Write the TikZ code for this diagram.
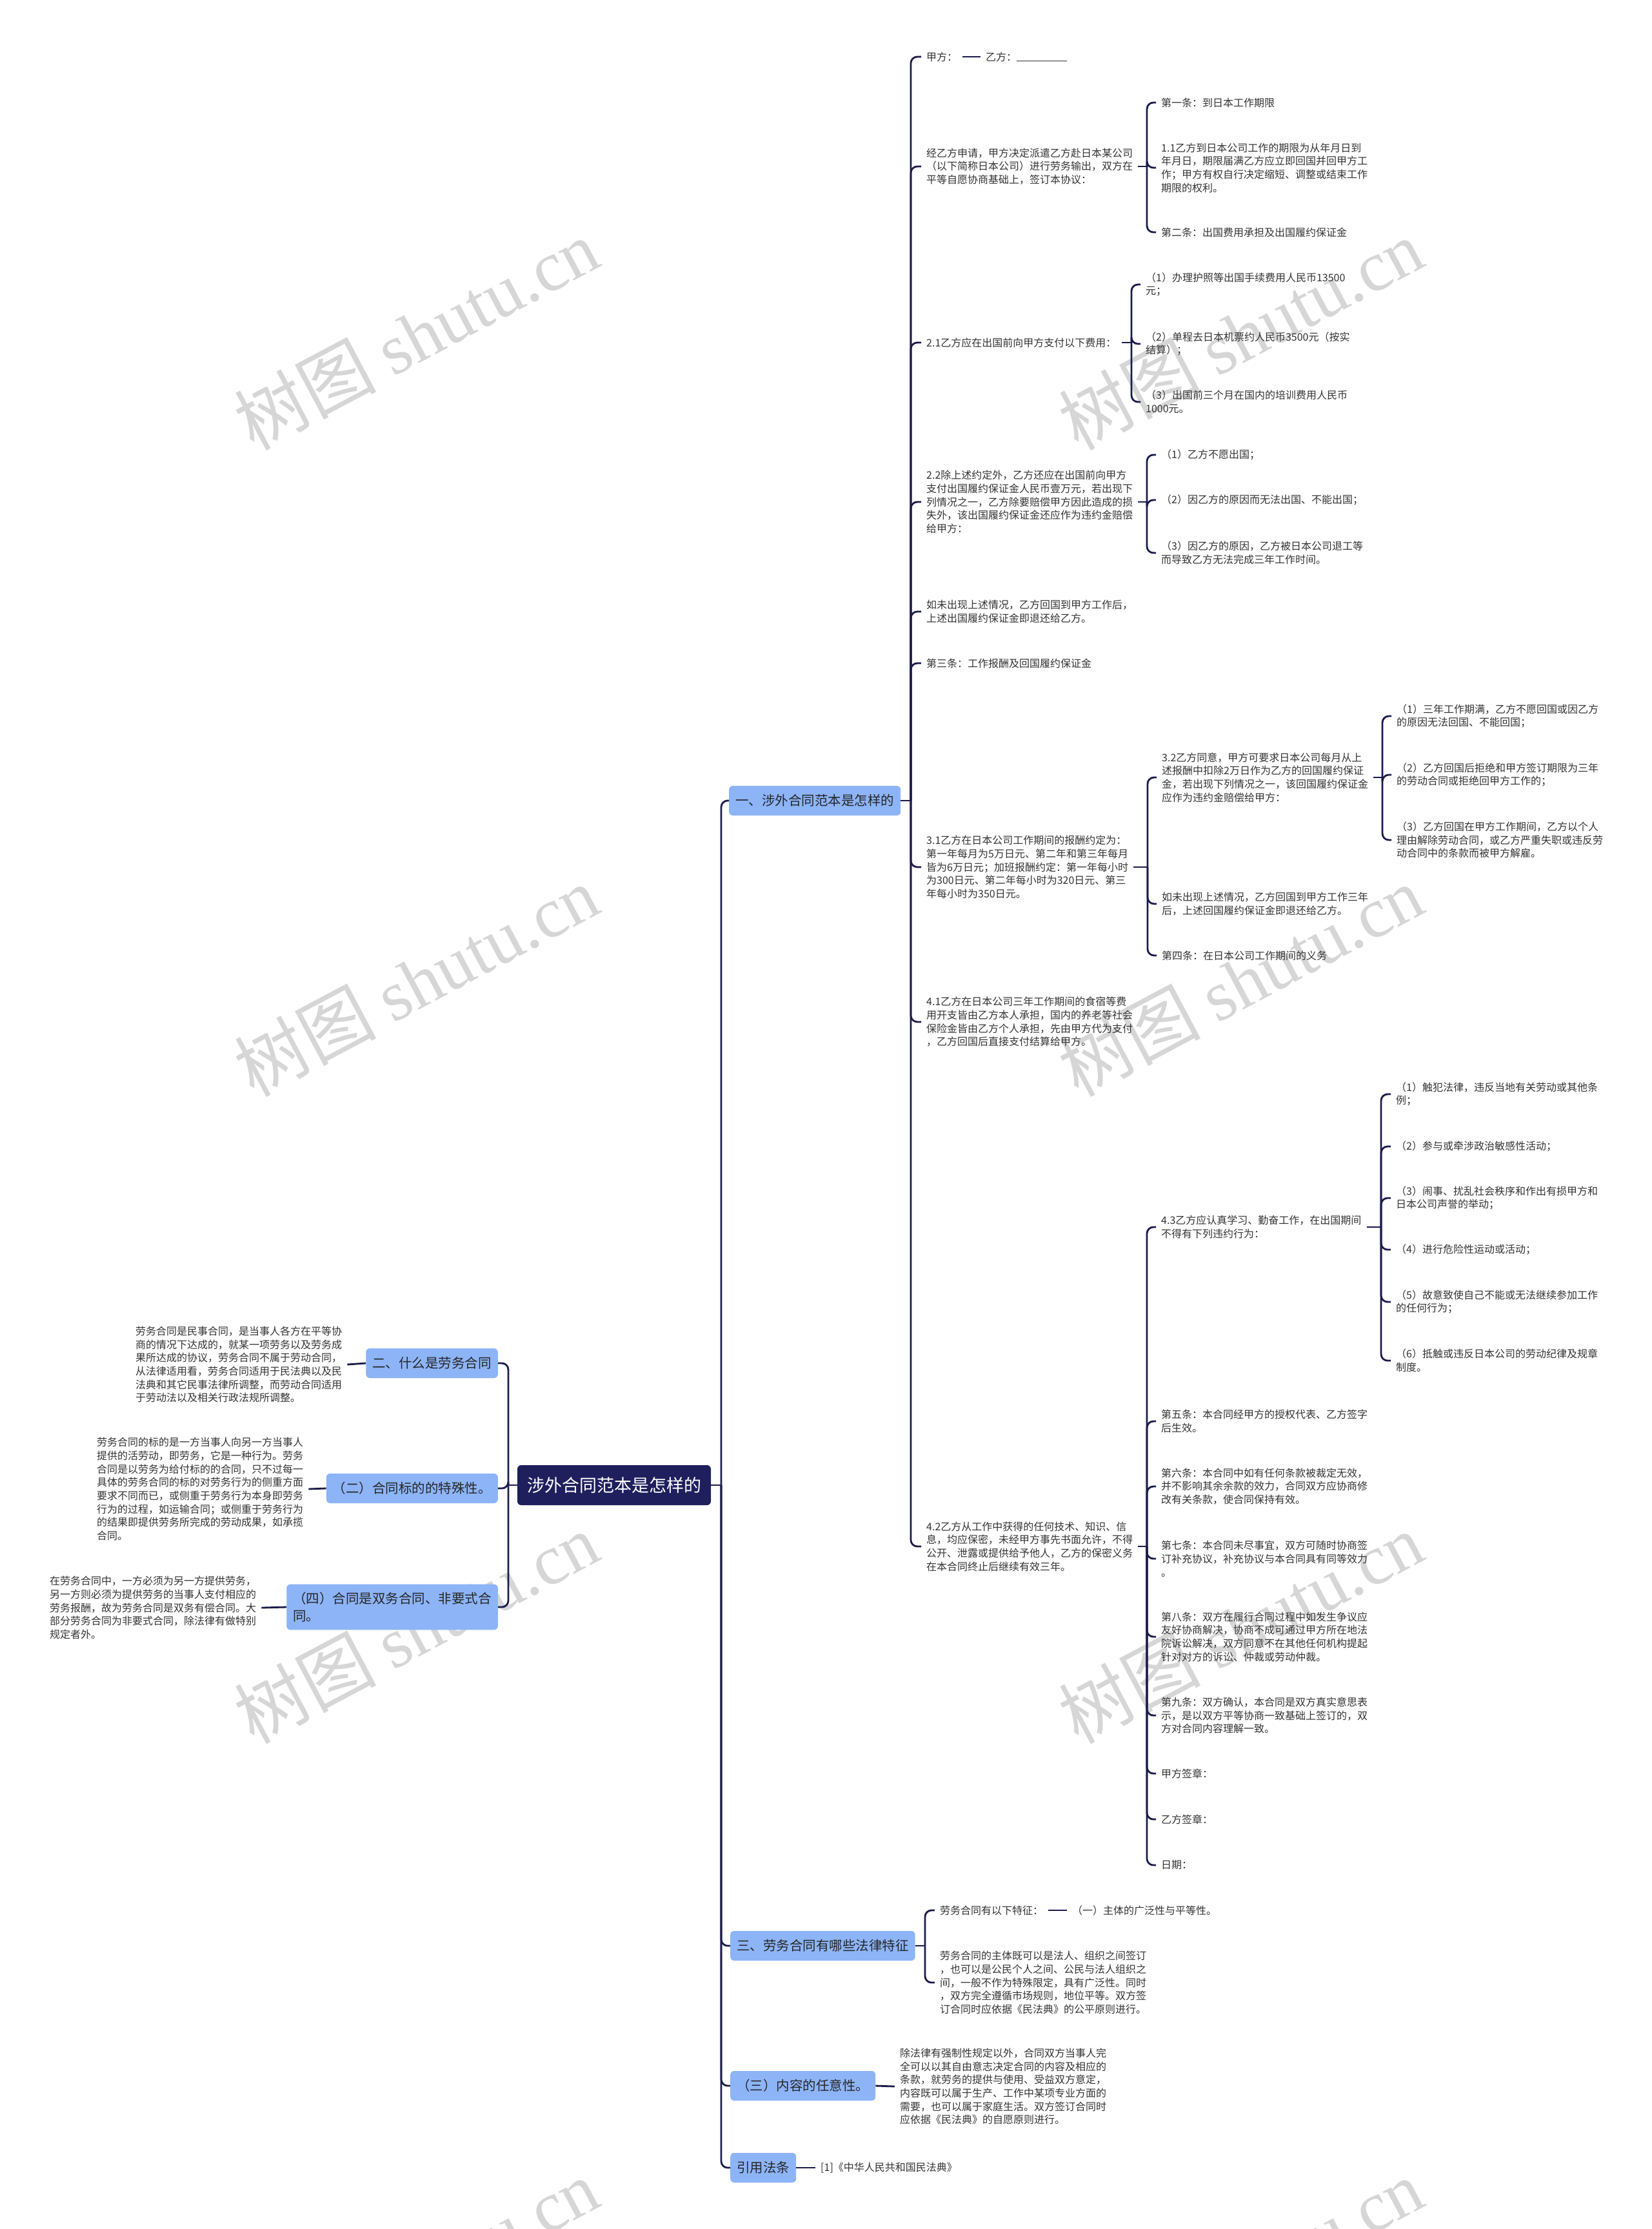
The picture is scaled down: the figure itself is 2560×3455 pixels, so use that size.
\documentclass[tikz,border=0pt]{standalone}
\usepackage{fontspec}
\setmainfont{Noto Sans CJK SC}
\newfontfamily\wmserif{Liberation Serif}
\definecolor{navy}{HTML}{1E1F5C}
\definecolor{lnc}{HTML}{1B1C4B}
\definecolor{lb}{HTML}{8DB4F7}
\definecolor{txc}{HTML}{333333}
\definecolor{wmc}{HTML}{D6D6D6}
\begin{document}
\begin{tikzpicture}[x=1pt,y=-1pt,
  t/.style={anchor=west, xshift=-8pt, inner xsep=8pt, inner ysep=1pt, align=left, text=txc, font=\fontsize{16}{20.7}\selectfont},
  br/.style={fill=lb, rounded corners=6pt, text=black!85, font=\fontsize{20.5}{27.5}\selectfont, inner xsep=10pt, minimum height=46pt, align=left},
  cen/.style={fill=navy, rounded corners=6pt, text=white, font=\fontsize{27}{32}\selectfont, inner xsep=15pt, minimum height=62pt},
  conn/.style={draw=lnc, line width=2.8pt},
  rc/.style={conn, rounded corners=10pt},
  wm/.style={text=wmc, rotate=28, font=\fontsize{110}{120}\selectfont}
]
\useasboundingbox (0,0) rectangle (2560,3455);
\fill[white] (0,0) rectangle (2560,3455);

% watermarks
\foreach \wx in {645,1923}{
  \foreach \wy in {518,1520,2523,3525}{
    \node[wm] at (\wx,\wy) {树图 {\wmserif shutu.cn}};
  }
}

% central
\node[cen] (cn) at (952,2302) {涉外合同范本是怎样的};

% right trunk boxes
\node[br, anchor=west] (b1) at (1130,1241) {一、涉外合同范本是怎样的};
\node[br, anchor=west] (b3) at (1132,3016) {三、劳务合同有哪些法律特征};
\node[br, anchor=west] (b4) at (1132,3233) {（三）内容的任意性。};
\node[br, anchor=west] (b5) at (1132,3360) {引用法条};
% left trunk boxes
\node[br, anchor=east] (b2) at (772,2113) {二、什么是劳务合同};
\node[br, anchor=east] (b6) at (772,2307) {（二）合同标的的特殊性。};
\node[br, anchor=east, inner ysep=12pt] (b7) at (772,2491) {（四）合同是双务合同、非要式合\\同。};

\coordinate (TR) at (1118,0);
\coordinate (TL) at (788,0);
\draw[conn] (cn.east) -- (cn.east -| TR);
\foreach \b in {b1,b3,b4,b5} \draw[rc] (cn.east -| TR) |- (\b.west);
\draw[conn] (cn.west) -- (cn.west -| TL);
\foreach \b in {b2,b6,b7} \draw[rc] (cn.west -| TL) |- (\b.east);

% left texts
\node[t] (L2) at (210,2115) {劳务合同是民事合同，是当事人各方在平等协\\商的情况下达成的，就某一项劳务以及劳务成\\果所达成的协议，劳务合同不属于劳动合同，\\从法律适用看，劳务合同适用于民法典以及民\\法典和其它民事法律所调整，而劳动合同适用\\于劳动法以及相关行政法规所调整。};
\node[t] (L6) at (150,2308) {劳务合同的标的是一方当事人向另一方当事人\\提供的活劳动，即劳务，它是一种行为。劳务\\合同是以劳务为给付标的的合同，只不过每一\\具体的劳务合同的标的对劳务行为的侧重方面\\要求不同而已，或侧重于劳务行为本身即劳务\\行为的过程，如运输合同；或侧重于劳务行为\\的结果即提供劳务所完成的劳动成果，如承揽\\合同。};
\node[t] (L7) at (77,2492) {在劳务合同中，一方必须为另一方提供劳务，\\另一方则必须为提供劳务的当事人支付相应的\\劳务报酬，故为劳务合同是双务有偿合同。大\\部分劳务合同为非要式合同，除法律有做特别\\规定者外。};
\draw[conn] (b2.west) -- (L2.east);
\draw[conn] (b6.west) -- (L6.east);
\draw[conn] (b7.west) -- (L7.east);

% level 1 under b1
\node[t] (jia) at (1436,88) {甲方：};
\node[t] (yi) at (1528,88) {乙方：\rule[-1pt]{78pt}{1.2pt}};
\draw[conn] (jia.east) -- (yi.west);
\node[t] (p1) at (1436,258) {经乙方申请，甲方决定派遣乙方赴日本某公司\\（以下简称日本公司）进行劳务输出，双方在\\平等自愿协商基础上，签订本协议：};
\node[t] (p2) at (1436,531) {2.1乙方应在出国前向甲方支付以下费用：};
\node[t] (p3) at (1436,778) {2.2除上述约定外，乙方还应在出国前向甲方\\支付出国履约保证金人民币壹万元，若出现下\\列情况之一，乙方除要赔偿甲方因此造成的损\\失外，该出国履约保证金还应作为违约金赔偿\\给甲方：};
\node[t] (p4) at (1436,948) {如未出现上述情况，乙方回国到甲方工作后，\\上述出国履约保证金即退还给乙方。};
\node[t] (p5) at (1436,1028) {第三条：工作报酬及回国履约保证金};
\node[t] (p6) at (1436,1344) {3.1乙方在日本公司工作期间的报酬约定为：\\第一年每月为5万日元、第二年和第三年每月\\皆为6万日元；加班报酬约定：第一年每小时\\为300日元、第二年每小时为320日元、第三\\年每小时为350日元。};
\node[t] (p7) at (1436,1584) {4.1乙方在日本公司三年工作期间的食宿等费\\用开支皆由乙方本人承担，国内的养老等社会\\保险金皆由乙方个人承担，先由甲方代为支付\\，乙方回国后直接支付结算给甲方。};
\node[t] (p8) at (1436,2397) {4.2乙方从工作中获得的任何技术、知识、信\\息，均应保密，未经甲方事先书面允许，不得\\公开、泄露或提供给予他人，乙方的保密义务\\在本合同终止后继续有效三年。};
\coordinate (B1) at (1412,0);
\draw[conn] (b1.east) -- (b1.east -| B1);
\foreach \c in {jia,p1,p2,p3,p4,p5,p6,p7,p8} \draw[rc] (b1.east -| B1) |- (\c.west);

% p1 children
\node[t] (c11) at (1800,159) {第一条：到日本工作期限};
\node[t] (c12) at (1800,260) {1.1乙方到日本公司工作的期限为从年月日到\\年月日，期限届满乙方应立即回国并回甲方工\\作；甲方有权自行决定缩短、调整或结束工作\\期限的权利。};
\node[t] (c13) at (1800,360) {第二条：出国费用承担及出国履约保证金};
\coordinate (Bp1) at (1778,0);
\draw[conn] (p1.east) -- (p1.east -| Bp1);
\foreach \c in {c11,c12,c13} \draw[rc] (p1.east -| Bp1) |- (\c.west);

% p2 children
\node[t] (c21) at (1776,441) {（1）办理护照等出国手续费用人民币13500\\元；};
\node[t] (c22) at (1776,533) {（2）单程去日本机票约人民币3500元（按实\\结算）；};
\node[t] (c23) at (1776,623) {（3）出国前三个月在国内的培训费用人民币\\1000元。};
\coordinate (Bp2) at (1754,0);
\draw[conn] (p2.east) -- (p2.east -| Bp2);
\foreach \c in {c21,c22,c23} \draw[rc] (p2.east -| Bp2) |- (\c.west);

% p3 children
\node[t] (c31) at (1800,705) {（1）乙方不愿出国；};
\node[t] (c32) at (1800,775) {（2）因乙方的原因而无法出国、不能出国；};
\node[t] (c33) at (1800,857) {（3）因乙方的原因，乙方被日本公司退工等\\而导致乙方无法完成三年工作时间。};
\coordinate (Bp3) at (1778,0);
\draw[conn] (p3.east) -- (p3.east -| Bp3);
\foreach \c in {c31,c32,c33} \draw[rc] (p3.east -| Bp3) |- (\c.west);

% p6 children
\node[t] (c61) at (1801,1205) {3.2乙方同意，甲方可要求日本公司每月从上\\述报酬中扣除2万日作为乙方的回国履约保证\\金，若出现下列情况之一，该回国履约保证金\\应作为违约金赔偿给甲方：};
\node[t] (c62) at (1801,1401) {如未出现上述情况，乙方回国到甲方工作三年\\后，上述回国履约保证金即退还给乙方。};
\node[t] (c63) at (1801,1481) {第四条：在日本公司工作期间的义务};
\coordinate (Bp6) at (1779,0);
\draw[conn] (p6.east) -- (p6.east -| Bp6);
\foreach \c in {c61,c62,c63} \draw[rc] (p6.east -| Bp6) |- (\c.west);

% c61 children
\node[t] (d1) at (2165,1110) {（1）三年工作期满，乙方不愿回国或因乙方\\的原因无法回国、不能回国；};
\node[t] (d2) at (2165,1201) {（2）乙方回国后拒绝和甲方签订期限为三年\\的劳动合同或拒绝回甲方工作的；};
\node[t] (d3) at (2165,1302) {（3）乙方回国在甲方工作期间，乙方以个人\\理由解除劳动合同，或乙方严重失职或违反劳\\动合同中的条款而被甲方解雇。};
\coordinate (Bc61) at (2143,0);
\draw[conn] (c61.east) -- (c61.east -| Bc61);
\foreach \c in {d1,d2,d3} \draw[rc] (c61.east -| Bc61) |- (\c.west);

% p8 children
\node[t] (c81) at (1800,1902) {4.3乙方应认真学习、勤奋工作，在出国期间\\不得有下列违约行为：};
\node[t] (c82) at (1800,2203) {第五条：本合同经甲方的授权代表、乙方签字\\后生效。};
\node[t] (c83) at (1800,2304) {第六条：本合同中如有任何条款被裁定无效，\\并不影响其余余款的效力，合同双方应协商修\\改有关条款，使合同保持有效。};
\node[t] (c84) at (1800,2416) {第七条：本合同未尽事宜，双方可随时协商签\\订补充协议，补充协议与本合同具有同等效力\\。};
\node[t] (c85) at (1800,2537) {第八条：双方在履行合同过程中如发生争议应\\友好协商解决，协商不成可通过甲方所在地法\\院诉讼解决，双方同意不在其他任何机构提起\\针对对方的诉讼、仲裁或劳动仲裁。};
\node[t] (c86) at (1800,2659) {第九条：双方确认，本合同是双方真实意思表\\示，是以双方平等协商一致基础上签订的，双\\方对合同内容理解一致。};
\node[t] (c87) at (1800,2749) {甲方签章：};
\node[t] (c88) at (1800,2820) {乙方签章：};
\node[t] (c89) at (1800,2891) {日期：};
\coordinate (Bp8) at (1778,0);
\draw[conn] (p8.east) -- (p8.east -| Bp8);
\foreach \c in {c81,c82,c83,c84,c85,c86,c87,c88,c89} \draw[rc] (p8.east -| Bp8) |- (\c.west);

% c81 children
\node[t] (e1) at (2164,1696) {（1）触犯法律，违反当地有关劳动或其他条\\例；};
\node[t] (e2) at (2164,1777) {（2）参与或牵涉政治敏感性活动；};
\node[t] (e3) at (2164,1857) {（3）闹事、扰乱社会秩序和作出有损甲方和\\日本公司声誉的举动；};
\node[t] (e4) at (2164,1937) {（4）进行危险性运动或活动；};
\node[t] (e5) at (2164,2018) {（5）故意致使自己不能或无法继续参加工作\\的任何行为；};
\node[t] (e6) at (2164,2109) {（6）抵触或违反日本公司的劳动纪律及规章\\制度。};
\coordinate (Bc81) at (2141,0);
\draw[conn] (c81.east) -- (c81.east -| Bc81);
\foreach \c in {e1,e2,e3,e4,e5,e6} \draw[rc] (c81.east -| Bc81) |- (\c.west);

% b3 children
\node[t] (f1) at (1457,2961) {劳务合同有以下特征：};
\node[t] (f1b) at (1662,2961) {（一）主体的广泛性与平等性。};
\node[t] (f2) at (1457,3073) {劳务合同的主体既可以是法人、组织之间签订\\，也可以是公民个人之间、公民与法人组织之\\间，一般不作为特殊限定，具有广泛性。同时\\，双方完全遵循市场规则，地位平等。双方签\\订合同时应依据《民法典》的公平原则进行。};
\draw[conn] (f1.east) -- (f1b.west);
\coordinate (Bb3) at (1434,0);
\draw[conn] (b3.east) -- (b3.east -| Bb3);
\foreach \c in {f1,f2} \draw[rc] (b3.east -| Bb3) |- (\c.west);

% b4, b5 children
\node[t] (g1) at (1395,3234) {除法律有强制性规定以外，合同双方当事人完\\全可以以其自由意志决定合同的内容及相应的\\条款，就劳务的提供与使用、受益双方意定，\\内容既可以属于生产、工作中某项专业方面的\\需要，也可以属于家庭生活。双方签订合同时\\应依据《民法典》的自愿原则进行。};
\draw[conn] (b4.east) -- (g1.west);
\node[t] (h1) at (1272,3360) {[1]《中华人民共和国民法典》};
\draw[conn] (b5.east) -- (h1.west);
\end{tikzpicture}
\end{document}
